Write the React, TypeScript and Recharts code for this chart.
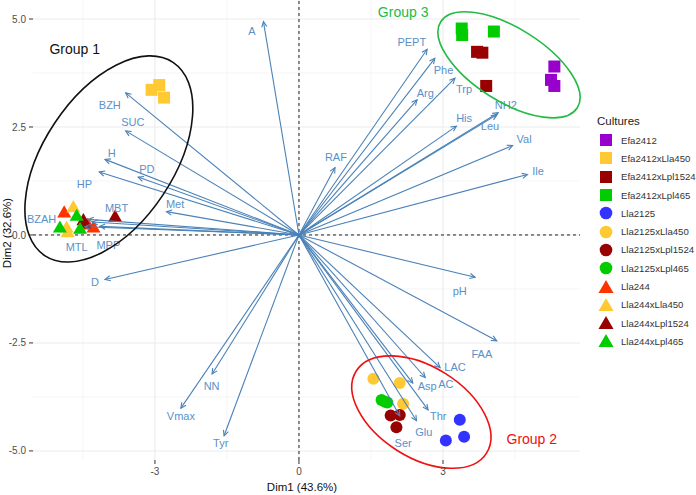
import React from 'react';
import { ScatterChart, Scatter, XAxis, YAxis, ReferenceLine, ReferenceDot, Legend } from 'recharts';

const FONT = '"Liberation Sans", Arial, Helvetica, sans-serif';

// ---------- cultures (individuals) ----------
const cultures = [
  'Efa2412', 'Efa2412xLla450', 'Efa2412xLpl1524', 'Efa2412xLpl465',
  'Lla2125', 'Lla2125xLla450', 'Lla2125xLpl1524', 'Lla2125xLpl465',
  'Lla244', 'Lla244xLla450', 'Lla244xLpl1524', 'Lla244xLpl465',
];
const cultureColors = [
  '#9900CC', '#FFC933', '#990000', '#00CC00',
  '#3333FF', '#FFC933', '#990000', '#00CC00',
  '#FF3300', '#FFC933', '#990000', '#00CC00',
];
const cultureShapes = [
  'square', 'square', 'square', 'square',
  'circle', 'circle', 'circle', 'circle',
  'triangle', 'triangle', 'triangle', 'triangle',
];

const efa2412 = [{ x: 5.32, y: 3.9 }, { x: 5.25, y: 3.59 }, { x: 5.32, y: 3.45 }];
const efa2412xLla450 = [{ x: -3.07, y: 3.36 }, { x: -2.91, y: 3.47 }, { x: -2.81, y: 3.18 }];
const efa2412xLpl1524 = [{ x: 3.71, y: 4.24 }, { x: 3.82, y: 4.22 }, { x: 3.9, y: 3.45 }];
const efa2412xLpl465 = [{ x: 3.39, y: 4.78 }, { x: 3.4, y: 4.63 }, { x: 4.06, y: 4.71 }];
const lla2125 = [{ x: 3.35, y: -4.28 }, { x: 3.44, y: -4.67 }, { x: 3.06, y: -4.76 }];
const lla2125xLla450 = [{ x: 1.55, y: -3.33 }, { x: 2.1, y: -3.43 }, { x: 2.17, y: -3.91 }];
const lla2125xLpl1524 = [{ x: 1.91, y: -4.18 }, { x: 2.1, y: -4.17 }, { x: 2.03, y: -4.45 }];
const lla2125xLpl465 = [{ x: 1.72, y: -3.82 }, { x: 1.84, y: -3.88 }, { x: 1.79, y: -3.86 }];
const lla244 = [{ x: -4.89, y: 0.5 }, { x: -4.4, y: 0.22 }, { x: -4.28, y: 0.15 }];
const lla244xLla450 = [{ x: -4.7, y: 0.62 }, { x: -4.84, y: 0.15 }, { x: -4.82, y: 0.04 }];
const lla244xLpl1524 = [{ x: -3.83, y: 0.4 }, { x: -4.49, y: 0.32 }, { x: -4.47, y: 0.25 }];
const lla244xLpl465 = [{ x: -4.63, y: 0.42 }, { x: -4.98, y: 0.15 }, { x: -4.56, y: 0.12 }];

const cultureData = [
  efa2412, efa2412xLla450, efa2412xLpl1524, efa2412xLpl465,
  lla2125, lla2125xLla450, lla2125xLpl1524, lla2125xLpl465,
  lla244, lla244xLla450, lla244xLpl1524, lla244xLpl465,
];

// ---------- variables (arrows) ----------
const variables = [
  'A', 'BZH', 'SUC', 'H', 'HP', 'PD', 'Met', 'MBT', 'BZAH', 'MTL', 'MPP', 'D',
  'NN', 'Vmax', 'Tyr', 'PEPT', 'Phe', 'Trp', 'Arg', 'His', 'NH2', 'Leu', 'Val',
  'Ile', 'RAF', 'pH', 'FAA', 'LAC', 'AC', 'Asp', 'Thr', 'Glu', 'Ser',
];
const varX = [
  -0.74, -3.61, -3.61, -4.04, -4.16, -3.35, -2.76, -4.39, -4.3, -4.46, -4.15, -4.04,
  -1.81, -2.46, -1.56, 2.67, 2.83, 3.25, 2.46, 3.28, 4.15, 4.12, 4.45,
  4.76, 0.75, 3.67, 4.12, 2.94, 2.63, 2.37, 2.69, 2.45, 2.1,
];
const varY = [
  4.94, 3.29, 2.41, 1.75, 1.46, 1.34, 0.54, 0.36, 0.3, 0.19, 0.2, -1.03,
  -3.22, -4.01, -4.65, 4.3, 4.09, 3.63, 3.13, 2.52, 2.83, 2.78, 2.07,
  1.4, 1.56, -0.98, -2.45, -3.07, -3.3, -3.43, -4.05, -4.3, -4.19,
];
const labelX = [
  -0.98, -3.94, -3.46, -3.9, -4.47, -3.17, -2.58, -3.8, -5.36, -4.63, -3.97, -4.25,
  -1.82, -2.46, -1.63, 2.35, 3.01, 3.44, 2.63, 3.44, 4.31, 3.98, 4.69,
  4.98, 0.77, 3.35, 3.81, 3.25, 3.06, 2.67, 2.9, 2.6, 2.17,
];
const labelY = [
  4.72, 3.01, 2.61, 1.89, 1.18, 1.52, 0.72, 0.62, 0.37, -0.27, -0.23, -1.08,
  -3.5, -4.19, -4.82, 4.47, 3.82, 3.37, 3.29, 2.7, 3.01, 2.52, 2.22,
  1.47, 1.81, -1.3, -2.76, -3.05, -3.44, -3.5, -4.19, -4.57, -4.81,
];

// ---------- groups ----------
const groupNames = ['Group 1', 'Group 2', 'Group 3'];
const groupColors = ['#111111', '#EE1111', '#22BB44'];
const groupCenterX = [-3.96, 2.55, 4.375];
const groupCenterY = [1.76, -4.1, 3.94];
const groupLabelX = [-4.67, 4.85, 2.17];
const groupLabelY = [4.3, -4.72, 5.16];
// ellipse geometry (pixels / degrees)
const ellipseStyle = [
  { rx: 116, ry: 65, rot: -56.4 },
  { rx: 77, ry: 45.4, rot: 32.2 },
  { rx: 80.7, ry: 36.6, rot: 32.2 },
];

// ---------- axes ----------
const X_DOMAIN = [-5.54, 5.854];
const Y_DOMAIN = [-5.21, 5.44];
const xTicks = [-3, 0, 3];
const yTicks = [-5, -2.5, 0, 2.5, 5];
const xMinor = [-4.5, -1.5, 1.5, 4.5];
const yMinor = [-3.75, -1.25, 1.25, 3.75];

const ARROW = '#4A82B8';
const LABEL = '#5B90C8';

const ArrowLine = (p: any) => {
  const pts = p.points || [];
  if (pts.length < 2) return <g />;
  const x1 = pts[0].x;
  const y1 = pts[0].y;
  const x2 = pts[1].x;
  const y2 = pts[1].y;
  const ang = Math.atan2(y2 - y1, x2 - x1);
  const L = 6;
  const a = Math.PI / 7;
  const ax = x2 - L * Math.cos(ang - a);
  const ay = y2 - L * Math.sin(ang - a);
  const bx = x2 - L * Math.cos(ang + a);
  const by = y2 - L * Math.sin(ang + a);
  return (
    <g>
      <line x1={x1} y1={y1} x2={x2} y2={y2} stroke={ARROW} strokeWidth={1.1} />
      <polyline points={`${ax},${ay} ${x2},${y2} ${bx},${by}`} fill="none" stroke={ARROW} strokeWidth={1.1} />
    </g>
  );
};

const EmptyShape = () => <g />;

const pointShape = (shape: string, color: string) => (p: any) => {
  const { cx, cy } = p;
  if (cx == null || cy == null) return <g />;
  if (shape === 'square') return <rect x={cx - 6} y={cy - 6} width={12} height={12} fill={color} />;
  if (shape === 'circle') return <circle cx={cx} cy={cy} r={6} fill={color} />;
  const s = 14;
  const h = s * 0.866;
  return (
    <polygon
      points={`${cx},${cy - (h * 2) / 3} ${cx + s / 2},${cy + h / 3} ${cx - s / 2},${cy + h / 3}`}
      fill={color}
    />
  );
};

const KeyIcon = ({ shape, color }: { shape: string; color: string }) => (
  <svg width={18} height={18} style={{ display: 'block' }}>
    {shape === 'square' && <rect x={3} y={3} width={12} height={12} fill={color} />}
    {shape === 'circle' && <circle cx={9} cy={9} r={6.3} fill={color} />}
    {shape === 'triangle' && <polygon points="9,2 16.5,15 1.5,15" fill={color} />}
  </svg>
);

const LegendBox = () => (
  <div style={{ fontFamily: FONT, color: '#333' }}>
    <div style={{ height: 19, lineHeight: '19px', fontSize: 11.5, paddingLeft: 17, color: '#222' }}>Cultures</div>
    {cultures.map((c, i) => (
      <div key={c} style={{ height: 18.3, display: 'flex', alignItems: 'center' }}>
        <div style={{ width: 18, marginLeft: 16.7 }}>
          <KeyIcon shape={cultureShapes[i]} color={cultureColors[i]} />
        </div>
        <div style={{ marginLeft: 6.3, fontSize: 9.6, whiteSpace: 'nowrap' }}>{c}</div>
      </div>
    ))}
  </div>
);

export default function App() {
  return (
    <div style={{ position: 'absolute', left: 0, top: 0, width: 696, height: 495, background: '#fff' }}>
      <ScatterChart width={696} height={495} margin={{ top: 0, right: 0, bottom: 0, left: 0 }}>
        <XAxis
          type="number"
          dataKey="x"
          domain={X_DOMAIN}
          ticks={xTicks}
          allowDataOverflow
          height={35}
          axisLine={false}
          tickLine={{ stroke: '#333' }}
          tickSize={4}
          tickMargin={4}
          tick={{ fontSize: 10, fill: '#4d4d4d', fontFamily: FONT }}
          tickFormatter={(v: number) => String(v)}
          label={{
            content: (props: any) => (
              <text x={302} y={props.viewBox.y + 27} textAnchor="middle" dominantBaseline="central" fontSize={11.5} fill="#111" fontFamily={FONT}>
                Dim1 (43.6%)
              </text>
            ),
          }}
        />
        <YAxis
          type="number"
          dataKey="y"
          domain={Y_DOMAIN}
          ticks={yTicks}
          allowDataOverflow
          width={33}
          axisLine={false}
          tickLine={{ stroke: '#333' }}
          tickSize={4}
          tickMargin={3}
          tick={{ fontSize: 10, fill: '#4d4d4d', fontFamily: FONT }}
          tickFormatter={(v: number) => v.toFixed(1)}
          label={{
            content: (props: any) => {
              const cy = props.viewBox.y + props.viewBox.height / 2 + 3;
              return (
                <text x={7} y={cy} transform={`rotate(-90 7 ${cy})`} textAnchor="middle" dominantBaseline="central" fontSize={11.5} fill="#111" fontFamily={FONT}>
                  Dim2 (32.6%)
                </text>
              );
            },
          }}
        />
        {xMinor.map((v) => (
          <ReferenceLine key={'xm' + v} x={v} stroke="#f3f3f3" strokeWidth={0.8} />
        ))}
        {yMinor.map((v) => (
          <ReferenceLine key={'ym' + v} y={v} stroke="#f3f3f3" strokeWidth={0.8} />
        ))}
        {xTicks.map((v) => (
          <ReferenceLine key={'xM' + v} x={v} stroke="#ebebeb" strokeWidth={1.1} />
        ))}
        {yTicks.map((v) => (
          <ReferenceLine key={'yM' + v} y={v} stroke="#ebebeb" strokeWidth={1.1} />
        ))}
        <ReferenceLine x={0} stroke="#222" strokeDasharray="3 3" strokeWidth={1} />
        <ReferenceLine y={0} stroke="#222" strokeDasharray="3 3" strokeWidth={1} />

        {cultures.map((c, i) => (
          <Scatter
            key={c}
            name={c}
            data={cultureData[i]}
            fill={cultureColors[i]}
            shape={pointShape(cultureShapes[i], cultureColors[i])}
            isAnimationActive={false}
          />
        ))}

        {variables.map((v, i) => (
          <Scatter
            key={'arr' + v}
            name={v}
            data={[{ x: 0, y: 0 }, { x: varX[i], y: varY[i] }]}
            line={ArrowLine}
            shape={EmptyShape}
            legendType="none"
            isAnimationActive={false}
          />
        ))}

        {variables.map((v, i) => (
          <ReferenceDot
            key={'lab' + v}
            x={labelX[i]}
            y={labelY[i]}
            ifOverflow="visible"
            shape={(p: any) => (
              <text x={p.cx} y={p.cy} textAnchor="middle" dominantBaseline="central" fontSize={11} fill={LABEL} fontFamily={FONT}>
                {v}
              </text>
            )}
          />
        ))}

        {groupNames.map((g, i) => (
          <ReferenceDot
            key={'ell' + g}
            x={groupCenterX[i]}
            y={groupCenterY[i]}
            ifOverflow="visible"
            shape={(p: any) => (
              <ellipse
                cx={p.cx}
                cy={p.cy}
                rx={ellipseStyle[i].rx}
                ry={ellipseStyle[i].ry}
                transform={`rotate(${ellipseStyle[i].rot} ${p.cx} ${p.cy})`}
                fill="none"
                stroke={groupColors[i]}
                strokeWidth={1.6}
              />
            )}
          />
        ))}
        {groupNames.map((g, i) => (
          <ReferenceDot
            key={'gl' + g}
            x={groupLabelX[i]}
            y={groupLabelY[i]}
            ifOverflow="visible"
            shape={(p: any) => (
              <text x={p.cx} y={p.cy} textAnchor="middle" dominantBaseline="central" fontSize={14} fill={groupColors[i]} fontFamily={FONT}>
                {g}
              </text>
            )}
          />
        ))}

        <Legend
          layout="vertical"
          align="right"
          verticalAlign="top"
          wrapperStyle={{ left: 580, top: 112, width: 116 }}
          content={() => <LegendBox />}
        />
      </ScatterChart>
    </div>
  );
}
